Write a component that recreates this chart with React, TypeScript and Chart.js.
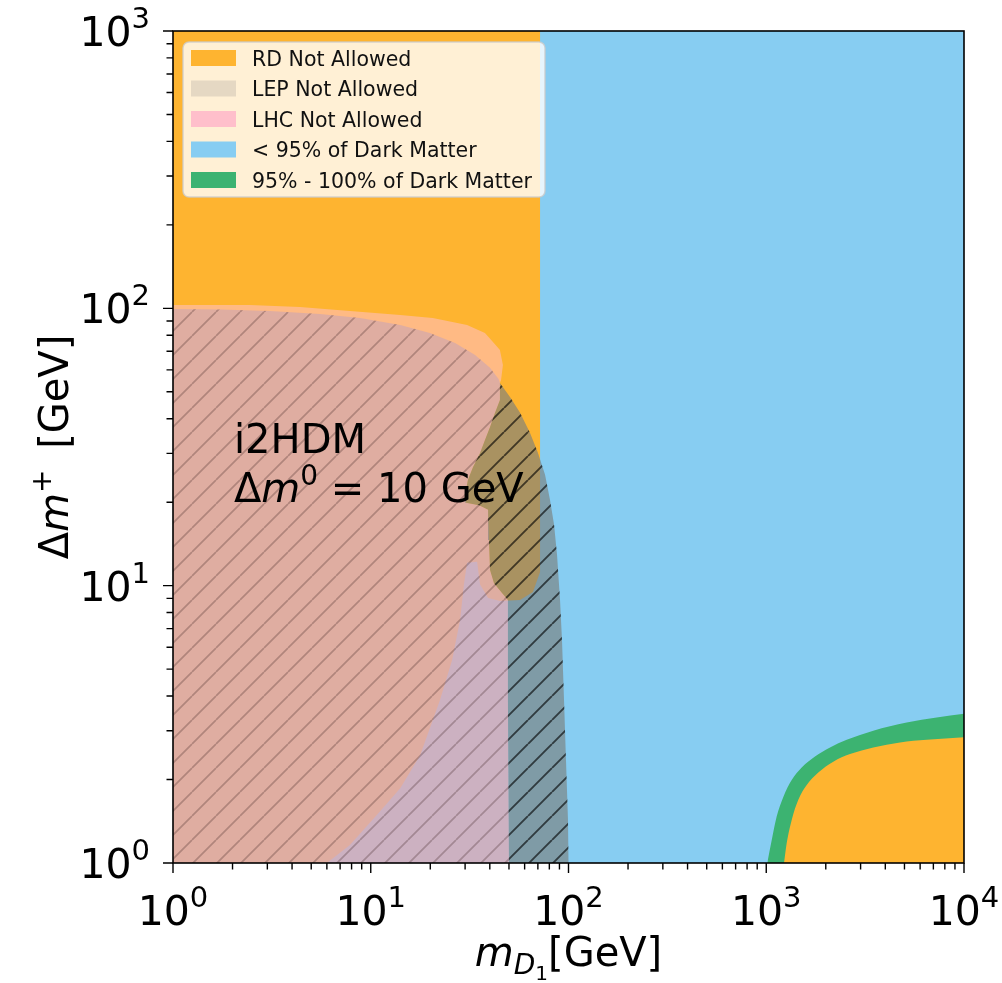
import { useEffect, useRef } from "react";
import { Chart, registerables } from "chart.js";

Chart.register(...registerables);

type Pt = [number, number];

// Axis ranges (GeV) and decade ticks
const X_RANGE: Pt = [1, 1e4];
const Y_RANGE: Pt = [1, 1e3];
const X_TICK_EXPONENTS = [0, 1, 2, 3, 4];
const Y_TICK_EXPONENTS = [0, 1, 2, 3];

// Whole scanned plane (m_D1, Δm+)
const PLANE: Pt[] = [[1, 1], [1e4, 1], [1e4, 1e3], [1, 1e3]];

// Relic-density exclusion at light masses (left part of the plane)
const RD_LIGHT: Pt[] = [
  [1, 1], [6.0, 1], [7.85, 1.16], [11.1, 1.53], [14.1, 1.86], [17.8, 2.45],
  [22.4, 3.87], [25.8, 5.4], [28.3, 7.52], [29.6, 10.1], [30.7, 12.1],
  [34.5, 12.2], [35.7, 10.1], [39.2, 9.03], [45.0, 8.81], [56.9, 8.88],
  [66.1, 9.49], [71.8, 11.2], [71.8, 1e3], [1, 1e3],
];

// 95%-100% dark-matter band, upper edge
const DM_BAND_UPPER: Pt[] = [
  [1012, 1], [1066, 1.21], [1129, 1.47], [1220, 1.73], [1345, 1.99],
  [1511, 2.21], [1764, 2.42], [2101, 2.61], [2552, 2.78], [3478, 3.0],
  [5132, 3.21], [7278, 3.35], [10000, 3.45],
];

// Relic-density exclusion at heavy masses (below the band)
const RD_HEAVY: Pt[] = [
  [1230, 1], [1269, 1.18], [1345, 1.43], [1453, 1.69], [1602, 1.91],
  [1833, 2.12], [2183, 2.32], [2652, 2.47], [3478, 2.61], [4746, 2.72],
  [6478, 2.78], [10000, 2.84],
];

// LHC exclusion envelope, upper edge
const LHC_TOP: Pt[] = [
  [1, 102.9], [2.45, 102.9], [4.39, 101.2], [7.85, 97.9], [14.1, 94.7],
  [20.6, 92.3], [30.7, 87.1], [37.8, 81.5], [41.5, 75.6], [45.0, 70.8],
  [46.6, 62.5], [45.6, 55.2],
];

// Hatched LHC contour, upper edge
const LHC_HATCH_TOP: Pt[] = [
  [1, 99.5], [1.73, 99.1], [3.09, 97.9], [5.54, 95.4], [8.82, 92.3],
  [14.1, 87.1], [19.9, 81.5], [26.7, 75.0], [33.7, 67.9], [40.1, 61.0],
  [44.3, 55.6],
];

// LEP exclusion: outer edge (from the tip down to the axis)
const LEP_OUTER: Pt[] = [
  [45.0, 53.8], [50.6, 47.9], [56.9, 42.0], [63.9, 35.5], [70.1, 30.1],
  [76.1, 25.1], [80.6, 20.4], [84.5, 16.6], [87.5, 12.9], [90.6, 8.88],
  [92.7, 6.37], [94.9, 3.87], [97.1, 2.35], [99.4, 1.43], [100, 1],
];

// LEP exclusion: inner edge (from the tip down to the axis)
const LEP_INNER: Pt[] = [
  [45.0, 53.8], [45.0, 46.7], [42.5, 42.0], [40.1, 37.3], [37.8, 33.5],
  [35.7, 30.1], [32.9, 26.8], [31.0, 24.1], [30.0, 21.2], [30.3, 19.9],
  [35.3, 19.5], [39.2, 18.8], [39.6, 14.6], [40.1, 11.4], [42.0, 10.2],
  [46.1, 9.41], [49.4, 8.88], [49.4, 3.87], [50.0, 1],
];

const LEGEND_LABELS = [
  "RD Not Allowed",
  "LEP Not Allowed",
  "LHC Not Allowed",
  "< 95% of Dark Matter",
  "95% - 100% of Dark Matter",
];

const ORANGE = "rgb(254,180,48)";
const SKY = "rgb(135,205,242)";
const GREEN = "rgb(60,179,113)";
const LEGEND_COLORS = [ORANGE, "rgb(229,216,195)", "rgb(255,191,203)", SKY, GREEN];

const FONT = "'DejaVu Sans'";

function hatch(color: string, width: number, step: number): CanvasPattern {
  const tile = document.createElement("canvas");
  tile.width = step;
  tile.height = step;
  const g = tile.getContext("2d")!;
  g.strokeStyle = color;
  g.lineWidth = width;
  g.beginPath();
  for (const k of [-1, 0, 1]) {
    g.moveTo(k * step, step);
    g.lineTo(k * step + step, 0);
  }
  g.stroke();
  return g.createPattern(tile, "repeat")!;
}

type Run = { text: string; font: string; dy?: number };

function drawRuns(
  ctx: CanvasRenderingContext2D,
  runs: Run[],
  x: number,
  y: number,
  align: "left" | "center" | "right"
) {
  ctx.textAlign = "left";
  ctx.textBaseline = "alphabetic";
  let total = 0;
  const widths = runs.map((r) => {
    ctx.font = r.font;
    const w = ctx.measureText(r.text).width;
    total += w;
    return w;
  });
  let cx = align === "center" ? x - total / 2 : align === "right" ? x - total : x;
  runs.forEach((r, i) => {
    ctx.font = r.font;
    ctx.fillText(r.text, cx, y + (r.dy || 0));
    cx += widths[i];
  });
}

function powRuns(exp: number): Run[] {
  return [
    { text: "10", font: `41px ${FONT}` },
    { text: String(exp), font: `29px ${FONT}`, dy: -18 },
  ];
}

const framePlugin = {
  id: "frame",
  afterDatasetsDraw(chart: any) {
    const ctx: CanvasRenderingContext2D = chart.ctx;
    const { left, right, top, bottom } = chart.chartArea;
    const xs = chart.scales.x;
    const ys = chart.scales.y;
    ctx.save();

    // spines
    ctx.strokeStyle = "#000";
    ctx.lineWidth = 1.6;
    ctx.strokeRect(left, top, right - left, bottom - top);

    // ticks
    ctx.lineWidth = 1.4;
    ctx.beginPath();
    for (const ex of X_TICK_EXPONENTS) {
      const d = Math.pow(10, ex);
      for (let m = 1; m <= 9; m++) {
        const v = d * m;
        if (v > X_RANGE[1]) break;
        const px = xs.getPixelForValue(v);
        ctx.moveTo(px, bottom);
        ctx.lineTo(px, bottom + (m === 1 ? 10 : 6.5));
      }
    }
    for (const ey of Y_TICK_EXPONENTS) {
      const d = Math.pow(10, ey);
      for (let m = 1; m <= 9; m++) {
        const v = d * m;
        if (v > Y_RANGE[1]) break;
        const py = ys.getPixelForValue(v);
        ctx.moveTo(left, py);
        ctx.lineTo(left - (m === 1 ? 10 : 6.5), py);
      }
    }
    ctx.stroke();

    // tick labels
    ctx.fillStyle = "#000";
    for (const e of X_TICK_EXPONENTS) {
      drawRuns(ctx, powRuns(e), xs.getPixelForValue(Math.pow(10, e)), 925, "center");
    }
    for (const e of Y_TICK_EXPONENTS) {
      drawRuns(ctx, powRuns(e), 150, ys.getPixelForValue(Math.pow(10, e)) + 15, "right");
    }

    // axis titles
    drawRuns(
      ctx,
      [
        { text: "m", font: `italic 40px ${FONT}` },
        { text: "D", font: `italic 28px ${FONT}`, dy: 8 },
        { text: "1", font: `20px ${FONT}`, dy: 14 },
        { text: "[GeV]", font: `40px ${FONT}` },
      ],
      (left + right) / 2,
      966,
      "center"
    );
    ctx.save();
    ctx.translate(68, (top + bottom) / 2);
    ctx.rotate(-Math.PI / 2);
    drawRuns(
      ctx,
      [
        { text: "Δ", font: `40px ${FONT}` },
        { text: "m", font: `italic 40px ${FONT}` },
        { text: "+", font: `28px ${FONT}`, dy: -17 },
        { text: "\u2009 [GeV]", font: `40px ${FONT}` },
      ],
      0,
      0,
      "center"
    );
    ctx.restore();

    // model annotation
    drawRuns(ctx, [{ text: "i2HDM", font: `40px ${FONT}` }], 234, 453, "left");
    drawRuns(
      ctx,
      [
        { text: "Δ", font: `40px ${FONT}` },
        { text: "m", font: `italic 40px ${FONT}` },
        { text: "0", font: `28px ${FONT}`, dy: -17 },
        { text: " = 10 GeV", font: `40px ${FONT}` },
      ],
      234,
      502,
      "left"
    );

    // legend
    const bx = 183, by = 42, bw = 362, bh = 155;
    ctx.beginPath();
    ctx.roundRect(bx, by, bw, bh, 6);
    ctx.fillStyle = "rgba(255,255,255,0.8)";
    ctx.fill();
    ctx.strokeStyle = "rgba(204,204,204,0.8)";
    ctx.lineWidth = 1.5;
    ctx.stroke();
    LEGEND_LABELS.forEach((label, i) => {
      const cy = 58 + i * 30.5;
      ctx.fillStyle = LEGEND_COLORS[i];
      ctx.fillRect(191, cy - 8, 45, 16);
      ctx.fillStyle = "#111";
      drawRuns(ctx, [{ text: label, font: `20.5px ${FONT}` }], 252, cy + 7.5, "left");
    });

    ctx.restore();
  },
};

function region(points: Pt[], color: string | CanvasPattern) {
  return {
    data: points.map(([x, y]) => ({ x, y })),
    fill: "shape",
    backgroundColor: color,
    borderColor: "rgba(0,0,0,0)",
    borderWidth: 0,
    pointRadius: 0,
    tension: 0,
  };
}

function underCurve(points: Pt[], color: string) {
  return {
    data: points.map(([x, y]) => ({ x, y })),
    fill: "start",
    backgroundColor: color,
    borderColor: "rgba(0,0,0,0)",
    borderWidth: 0,
    pointRadius: 0,
    cubicInterpolationMode: "monotone",
  };
}

export default function App() {
  const canvasRef = useRef<HTMLCanvasElement | null>(null);

  useEffect(() => {
    const canvas = canvasRef.current;
    if (!canvas) return;

    const lhcArea: Pt[] = [[1, 1], ...LHC_TOP, ...LEP_INNER];
    const lhcHatched: Pt[] = [[1, 1], ...LHC_HATCH_TOP, ...LEP_INNER];
    const lepArea: Pt[] = [...LEP_OUTER, ...LEP_INNER.slice().reverse()];

    const lightHatch = hatch("rgba(50,25,25,0.27)", 1.7, 24);
    const darkHatch = hatch("rgba(0,0,0,0.62)", 1.9, 24);

    // listed bottom layer first
    const layers = [
      region(PLANE, SKY),
      region(RD_LIGHT, ORANGE),
      underCurve(DM_BAND_UPPER, GREEN),
      underCurve(RD_HEAVY, ORANGE),
      region(lhcArea, "rgba(255,192,203,0.55)"),
      region(lhcHatched, "rgba(205,166,178,0.64)"),
      region(lepArea, "rgba(123,128,125,0.65)"),
      region(lhcHatched, lightHatch),
      region(lepArea, darkHatch),
    ];

    const chart = new Chart(canvas, {
      type: "line",
      data: { datasets: layers.reverse() as any },
      options: {
        animation: false,
        responsive: false,
        events: [],
        layout: { padding: { left: 173, top: 31, right: 38, bottom: 120 } },
        scales: {
          x: { type: "logarithmic", min: X_RANGE[0], max: X_RANGE[1], display: false },
          y: { type: "logarithmic", min: Y_RANGE[0], max: Y_RANGE[1], display: false },
        },
        plugins: { legend: { display: false }, tooltip: { enabled: false } },
      },
      plugins: [framePlugin],
    });
    return () => chart.destroy();
  }, []);

  return (
    <div style={{ position: "fixed", left: 0, top: 0, width: 1002, height: 983, background: "#fff" }}>
      <canvas ref={canvasRef} width={1002} height={983} />
    </div>
  );
}
